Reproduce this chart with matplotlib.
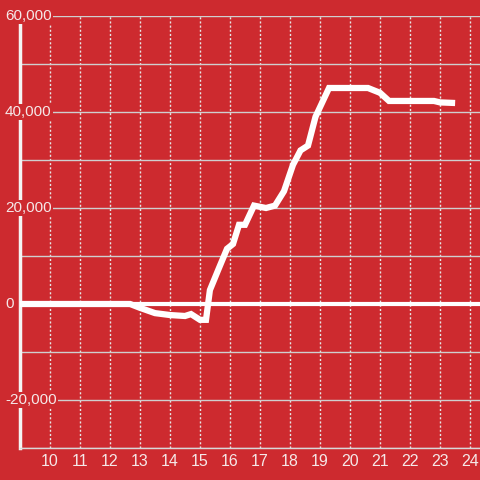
import matplotlib.pyplot as plt
import numpy as np

# hour of day vs cumulative value
hours = [9.0, 12.67, 13.0, 13.5, 14.0, 14.5, 14.7, 15.0, 15.2, 15.33, 15.6, 15.9, 16.1,
         16.3, 16.5, 16.8, 17.2, 17.5, 17.8, 18.1, 18.35, 18.6, 18.85, 19.3, 20.6,
         21.0, 21.3, 22.8, 23.0, 23.4]
values = [0, 0, -800, -1900, -2300, -2500, -2100, -3300, -3300, 2900, 7000, 11500, 12500,
          16500, 16500, 20500, 20000, 20500, 23500, 29000, 32000, 33000, 39000, 45000, 45000,
          44000, 42300, 42300, 42000, 41900]

xticks = list(range(10, 25))
yticks = [-20000, 0, 20000, 40000, 60000]
ylabels = ['-20,000', '0', '20,000', '40,000', '60,000']

bg = '#cd2a2f'
txt = '#f5e8e8'
plt.rcParams['font.family'] = ['Liberation Sans', 'DejaVu Sans']

fig = plt.figure(figsize=(4.8, 4.8), dpi=100, facecolor=bg)
ax = fig.add_axes([20/480, 32/480, 460/480, 432/480], facecolor=bg)
ax.set_xlim(9, 24.333)
ax.set_ylim(-30000, 60000)

for s in ['top', 'right']:
    ax.spines[s].set_visible(False)
ax.spines['bottom'].set_color('#d8d8d8')
ax.spines['bottom'].set_linewidth(1)
ax.spines['left'].set_color('#f4f4f4')
ax.spines['left'].set_linewidth(2.5)
ax.spines['left'].set_bounds(-30000, 58300)

ax.set_xticks(xticks)
ax.set_xticklabels([str(h) for h in xticks])
ax.set_yticks(yticks)
ax.set_yticklabels([])
ax.set_yticks(np.arange(-30000, 60001, 10000), minor=True)
ax.tick_params(axis='x', length=0, pad=4, labelsize=11.5, labelcolor=txt)
ax.tick_params(axis='y', which='both', length=0)

ax.grid(axis='y', which='both', color='#cfcfcf', lw=1, ls='-')
ax.grid(axis='x', which='major', color='#e6e6e6', lw=1, ls=(0, (1.5, 1.5)))
ax.set_axisbelow(True)

ax.axhline(0, color='white', lw=3, zorder=3)
ax.plot(hours, values, color='white', lw=4.5, solid_joinstyle='miter', zorder=4)

for v, lab in zip(yticks, ylabels):
    ax.text(-15/460, v, lab, transform=ax.get_yaxis_transform(),
            ha='left', va='center', fontsize=11, color=txt, zorder=6,
            bbox=dict(facecolor=bg, edgecolor='none', pad=1))

fig.savefig('out.png', facecolor=bg)
